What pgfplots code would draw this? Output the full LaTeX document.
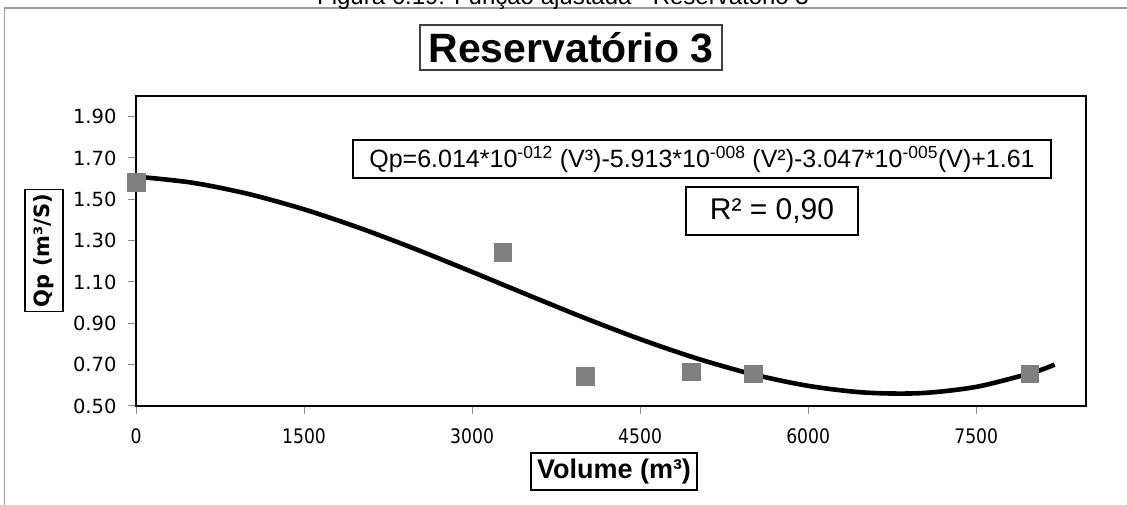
\documentclass[border=0pt]{standalone}
\usepackage{pgfplots}
\pgfplotsset{compat=1.18}
\usepackage{fontspec}
\setmainfont{Liberation Sans}
\newfontfamily\dvs{DejaVu Sans}
\newfontfamily\dvsc[FakeStretch=0.86]{DejaVu Sans}
\newcommand\fs[1]{\fontsize{#1bp}{#1bp}\selectfont}
\definecolor{markgray}{HTML}{808080}
\begin{document}
\begin{tikzpicture}
\useasboundingbox (0,0) rectangle (1127bp,505bp);
\draw[color=black!40, line width=1.2bp] (4.5bp,0) -- (4.5bp,497bp) -- (1127bp,497bp);
\node[anchor=base, inner sep=0] at (563bp,500bp) {\fs{24}Figura 6.19: Função ajustada - Reservatório 3};
\begin{axis}[
  at={(136bp,99bp)}, anchor=south west,
  width=950bp, height=310bp, scale only axis,
  xmin=0, xmax=8480, ymin=0.5, ymax=2.0,
  xtick={0,1500,3000,4500,6000,7500},
  ytick={0.5,0.7,0.9,1.1,1.3,1.5,1.7,1.9},
  tick pos=left, tick align=outside, major tick length=8bp,
  tick style={color=black!45, line width=1bp},
  axis line style={black, line width=2.2bp},
  clip=false,
  /pgf/number format/assume math mode=true,
  yticklabel style={font=\dvs\fs{19.5}, xshift=-8bp, /pgf/number format/.cd, fixed, fixed zerofill, precision=2},
  xticklabel style={font=\dvsc\fs{20}, yshift=-11bp, /pgf/number format/.cd, fixed, set thousands separator={}},
]
\addplot[only marks, mark=square*, mark size=8.7bp, color=markgray] coordinates {
(0,1.583) (3272,1.244) (4009,0.645) (4955,0.665) (5509,0.655) (7978,0.655)};
\addplot[black, line width=4.6bp, smooth, no marks] coordinates {
(0,1.6100) (500,1.5807) (1000,1.5264) (1500,1.4515) (2000,1.3607) (2500,1.2582)
(3000,1.1488) (3500,1.0369) (4000,0.9269) (4500,0.8235) (5000,0.7312) (5500,0.6543)
(6000,0.5975) (6500,0.5653) (7000,0.5621) (7500,0.5926) (8000,0.6611) (8200,0.7002)};
\end{axis}
\node[draw=black!75, line width=1.5bp, minimum width=302bp, minimum height=45bp, inner sep=0] at (571bp,457.5bp) {\fs{41}\bfseries Reservatório 3};
\node[draw=black, line width=1.2bp, rotate=90, minimum width=122bp, minimum height=38bp, inner sep=0] at (44bp,254.5bp) {\dvs\fs{21}\bfseries Qp (m³/S)};
\node[draw=black, line width=1.2bp, minimum width=166bp, minimum height=37bp, inner sep=0] at (614bp,33.5bp) {\fs{27}\bfseries Volume (m³)};
\node[draw=black, line width=1.2bp, minimum width=698bp, minimum height=38bp, inner sep=0] at (702bp,346bp) {\fs{25}Qp=6.014*10\textsuperscript{-012} (V³)-5.913*10\textsuperscript{-008} (V²)-3.047*10\textsuperscript{-005}(V)+1.61};
\node[draw=black, line width=1.2bp, minimum width=172bp, minimum height=48bp, inner sep=0] at (772bp,294bp) {\fs{30}R² = 0,90};
\end{tikzpicture}
\end{document}
